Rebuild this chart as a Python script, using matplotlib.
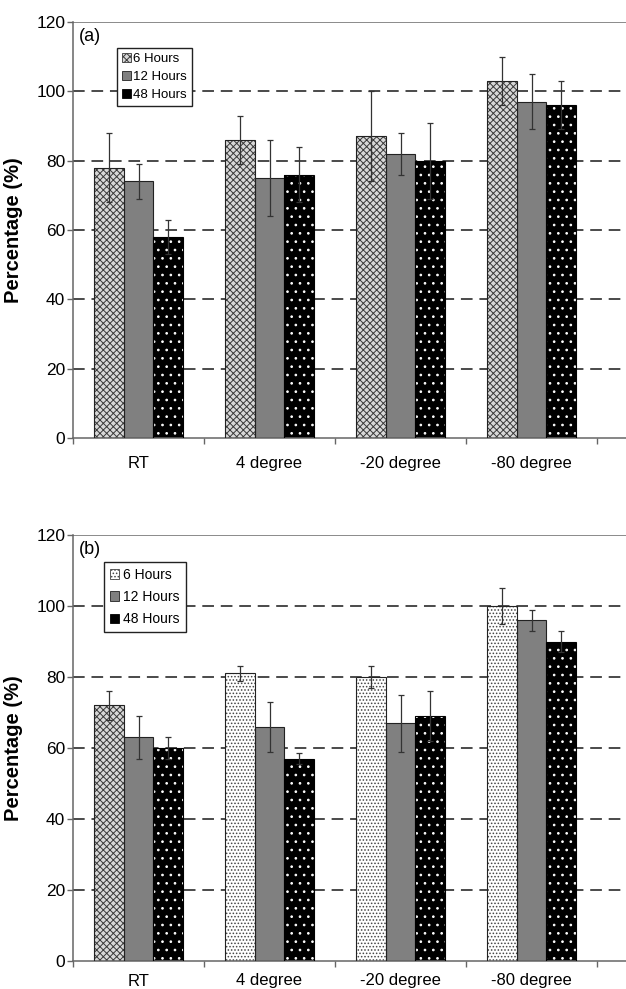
import numpy as np
import matplotlib
matplotlib.use("Agg")
from matplotlib import pyplot as plt
from matplotlib.patches import Patch

plt.rcParams['font.family'] = ['Liberation Sans', 'DejaVu Sans']
plt.rcParams['hatch.linewidth'] = 0.7

categories = ['RT', '4 degree', '-20 degree', '-80 degree']
series = ['6 Hours', '12 Hours', '48 Hours']

# panel (a)
a_6h = [78, 86, 87, 103]
a_6h_err = [10, 7, 13, 7]
a_12h = [74, 75, 82, 97]
a_12h_err = [5, 11, 6, 8]
a_48h = [58, 76, 80, 96]
a_48h_err = [5, 8, 11, 7]

# panel (b)
b_6h = [72, 81, 80, 100]
b_6h_err = [4, 2, 3, 5]
b_12h = [63, 66, 67, 96]
b_12h_err = [6, 7, 8, 3]
b_48h = [60, 57, 69, 90]
b_48h_err = [3, 1.5, 7, 3]

yticks = [0, 20, 40, 60, 80, 100, 120]

W, H = 626, 989
fig = plt.figure(figsize=(W / 100, H / 100), dpi=100)

def px_axes(left, top, right, bottom):
    return fig.add_axes([left / W, 1 - bottom / H, (right - left) / W, (bottom - top) / H])

ax_a = px_axes(73, 22, 626, 438)
ax_b = px_axes(73, 535, 626, 961)

bw = 0.225
x = np.arange(len(categories))
checker = dict(facecolor='#d8d8d8', edgecolor='#3a3a3a', hatch='xxxxx')
light = dict(facecolor='white', edgecolor='#444444', hatch='.....')


def draw_bar(ax, xs, vals, style):
    ax.bar(xs, vals, bw, linewidth=0, zorder=2, **style)
    ax.bar(xs, vals, bw, fill=False, edgecolor='#222222', linewidth=0.8, zorder=3)


def black_dots(ax, xs, vals):
    ax.bar(xs, vals, bw, facecolor='black', edgecolor='white', hatch='..', linewidth=0, zorder=2)
    ax.bar(xs, vals, bw, fill=False, edgecolor='black', linewidth=0.8, zorder=3)


def errs(ax, xs, vals, e):
    ax.errorbar(xs, vals, yerr=e, fmt='none', ecolor='#333333', elinewidth=0.9,
                capsize=2.5, capthick=0.9, zorder=4)


def style_axes(ax, tag, xpad):
    ax.set_xlim(-0.5, -0.5 + 553 / 131)
    ax.set_ylim(0, 120)
    ax.set_yticks(yticks)
    for v in yticks[1:-1]:
        ax.axhline(v, color='#4a4a4a', lw=1.4, ls=(0, (6, 3.5)), zorder=1)
    ax.axhline(120, color='#777777', lw=1.2, zorder=1)
    for s in ['top', 'right']:
        ax.spines[s].set_visible(False)
    for s in ['left', 'bottom']:
        ax.spines[s].set_color('#666666')
        ax.spines[s].set_linewidth(1.1)
    ax.set_xticks(x)
    ax.set_xticklabels(categories, fontsize=12)
    ax.set_xticks(np.arange(-0.5, len(categories) + 0.5, 1), minor=True)
    ax.tick_params(axis='x', which='major', length=0, pad=xpad)
    ax.tick_params(axis='x', which='minor', length=4, width=1, color='#666666', direction='out')
    ax.tick_params(axis='y', length=4, width=1, color='#666666', labelsize=12.5, pad=1.5)
    ax.set_ylabel('Percentage (%)', fontsize=14.5, fontweight='bold')
    ax.yaxis.set_label_coords(-50 / 553, 0.5)
    ax.text(0.01, 0.985, tag, transform=ax.transAxes, fontsize=13, va='top', ha='left')


# panel (a)
draw_bar(ax_a, x - bw, a_6h, checker)
draw_bar(ax_a, x, a_12h, dict(facecolor='#808080'))
black_dots(ax_a, x + bw, a_48h)
errs(ax_a, x - bw, a_6h, a_6h_err)
errs(ax_a, x, a_12h, a_12h_err)
errs(ax_a, x + bw, a_48h, a_48h_err)
style_axes(ax_a, '(a)', 13)
hand_a = [Patch(linewidth=0.6, **checker),
          Patch(facecolor='#808080', edgecolor='#222222', linewidth=0.6),
          Patch(facecolor='black', edgecolor='black', linewidth=0.6)]
leg = ax_a.legend(hand_a, series, loc='upper left', bbox_to_anchor=(44 / 553, 1 - 26 / 416),
                  fontsize=9.5, frameon=True, fancybox=False, framealpha=1,
                  handlelength=0.7, handleheight=0.7,
                  handletextpad=0.2, borderpad=0.35, labelspacing=0.45, borderaxespad=0)
leg.get_frame().set_edgecolor('#222222')
leg.get_frame().set_linewidth(1.0)

# panel (b): RT 6 h bar uses the checker fill, the rest use light dots
draw_bar(ax_b, x[:1] - bw, b_6h[:1], checker)
draw_bar(ax_b, x[1:] - bw, b_6h[1:], light)
draw_bar(ax_b, x, b_12h, dict(facecolor='#808080'))
black_dots(ax_b, x + bw, b_48h)
errs(ax_b, x - bw, b_6h, b_6h_err)
errs(ax_b, x, b_12h, b_12h_err)
errs(ax_b, x + bw, b_48h, b_48h_err)
style_axes(ax_b, '(b)', 9)
hand_b = [Patch(linewidth=0.6, **light),
          Patch(facecolor='#808080', edgecolor='#222222', linewidth=0.6),
          Patch(facecolor='black', edgecolor='black', linewidth=0.6)]
leg = ax_b.legend(hand_b, series, loc='upper left', bbox_to_anchor=(31 / 553, 1 - 27 / 426),
                  fontsize=10, frameon=True, fancybox=False, framealpha=1,
                  handlelength=0.7, handleheight=0.7,
                  handletextpad=0.3, borderpad=0.4, labelspacing=0.6, borderaxespad=0)
leg.get_frame().set_edgecolor('#222222')
leg.get_frame().set_linewidth(1.0)

fig.savefig('out.png', dpi=100)
